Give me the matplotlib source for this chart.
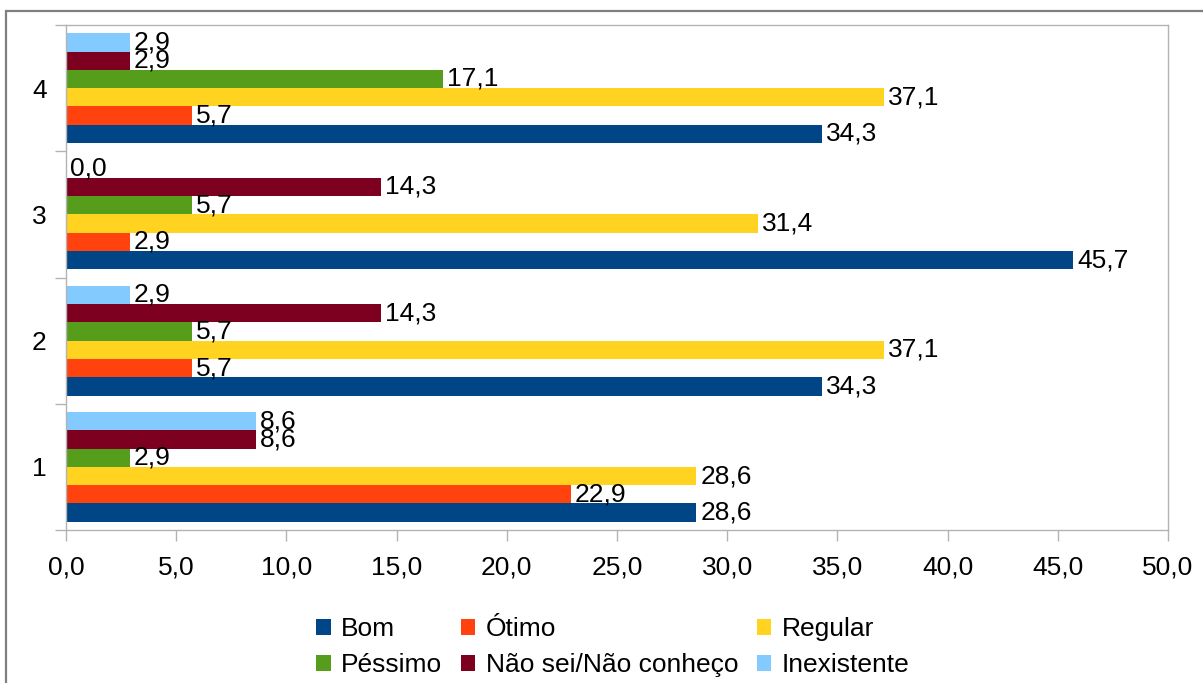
import matplotlib
matplotlib.use("Agg")
import matplotlib.pyplot as plt
import numpy as np
from matplotlib.patches import Rectangle, Patch

plt.rcParams['font.family'] = ['Liberation Sans', 'DejaVu Sans']

categories = ['1', '2', '3', '4']
series_names = ['Bom', 'Ótimo', 'Regular', 'Péssimo', 'Não sei/Não conheço', 'Inexistente']
bom = [28.6, 34.3, 45.7, 34.3]
otimo = [22.9, 5.7, 2.9, 5.7]
regular = [28.6, 37.1, 31.4, 37.1]
pessimo = [2.9, 5.7, 5.7, 17.1]
nao_sei = [8.6, 14.3, 14.3, 2.9]
inexistente = [8.6, 2.9, 0.0, 2.9]
series = [bom, otimo, regular, pessimo, nao_sei, inexistente]
colors = ['#004586', '#ff420e', '#ffd320', '#579d1c', '#7e0021', '#83caff']
xticks = [0, 5, 10, 15, 20, 25, 30, 35, 40, 45, 50]

W, H = 1203, 683
fig = plt.figure(figsize=(W / 100, H / 100), dpi=100)
ax = fig.add_axes([66 / W, 1 - 530 / H, (1168 - 66) / W, (530 - 25) / H])

# outer frame
fig.patches.append(Rectangle((6 / W, -0.1), 1.2, 1 - 11 / H + 0.1, transform=fig.transFigure,
                             fill=False, edgecolor='#7f7f7f', linewidth=1.6, zorder=0))

y = np.arange(len(categories))
h = 0.87 / len(series)
fs = 19
for i, (vals, c) in enumerate(zip(series, colors)):
    pos = y + (i - (len(series) - 1) / 2) * h
    ax.barh(pos, vals, height=h, color=c, edgecolor='none', zorder=2)
    for p, v in zip(pos, vals):
        ax.annotate(f"{v:.1f}".replace('.', ','), (v, p), xytext=(3, 0),
                    textcoords='offset points', va='center', ha='left', fontsize=fs, zorder=3)

ax.set_xlim(0, 50)
ax.set_ylim(-0.5, len(categories) - 0.5)
ax.set_xticks(xticks)
ax.set_xticklabels([f"{t:.1f}".replace('.', ',') for t in xticks], fontsize=fs)
ax.set_yticks(y)
ax.set_yticklabels(categories, fontsize=fs)
ax.set_yticks(np.arange(-0.5, len(categories)), minor=True)
ax.tick_params(axis='y', which='major', length=0, pad=14)
ax.tick_params(axis='y', which='minor', length=8, color='#b3b3b3', width=1)
ax.tick_params(axis='x', which='major', length=8, color='#b3b3b3', width=1, pad=10)
for s in ax.spines.values():
    s.set_color('#b3b3b3')
    s.set_linewidth(1)

handles = [Patch(facecolor=c, edgecolor='none') for c in colors]
order = [0, 3, 1, 4, 2, 5]
fig.legend([handles[k] for k in order], [series_names[k] for k in order],
           loc='center', bbox_to_anchor=(613 / W, 1 - 647 / H), ncol=3, frameon=False,
           fontsize=fs, handlelength=0.55, handleheight=0.55, handletextpad=0.4,
           columnspacing=0.7, labelspacing=0.45, borderpad=0, borderaxespad=0)

fig.savefig('out.png', dpi=100)
